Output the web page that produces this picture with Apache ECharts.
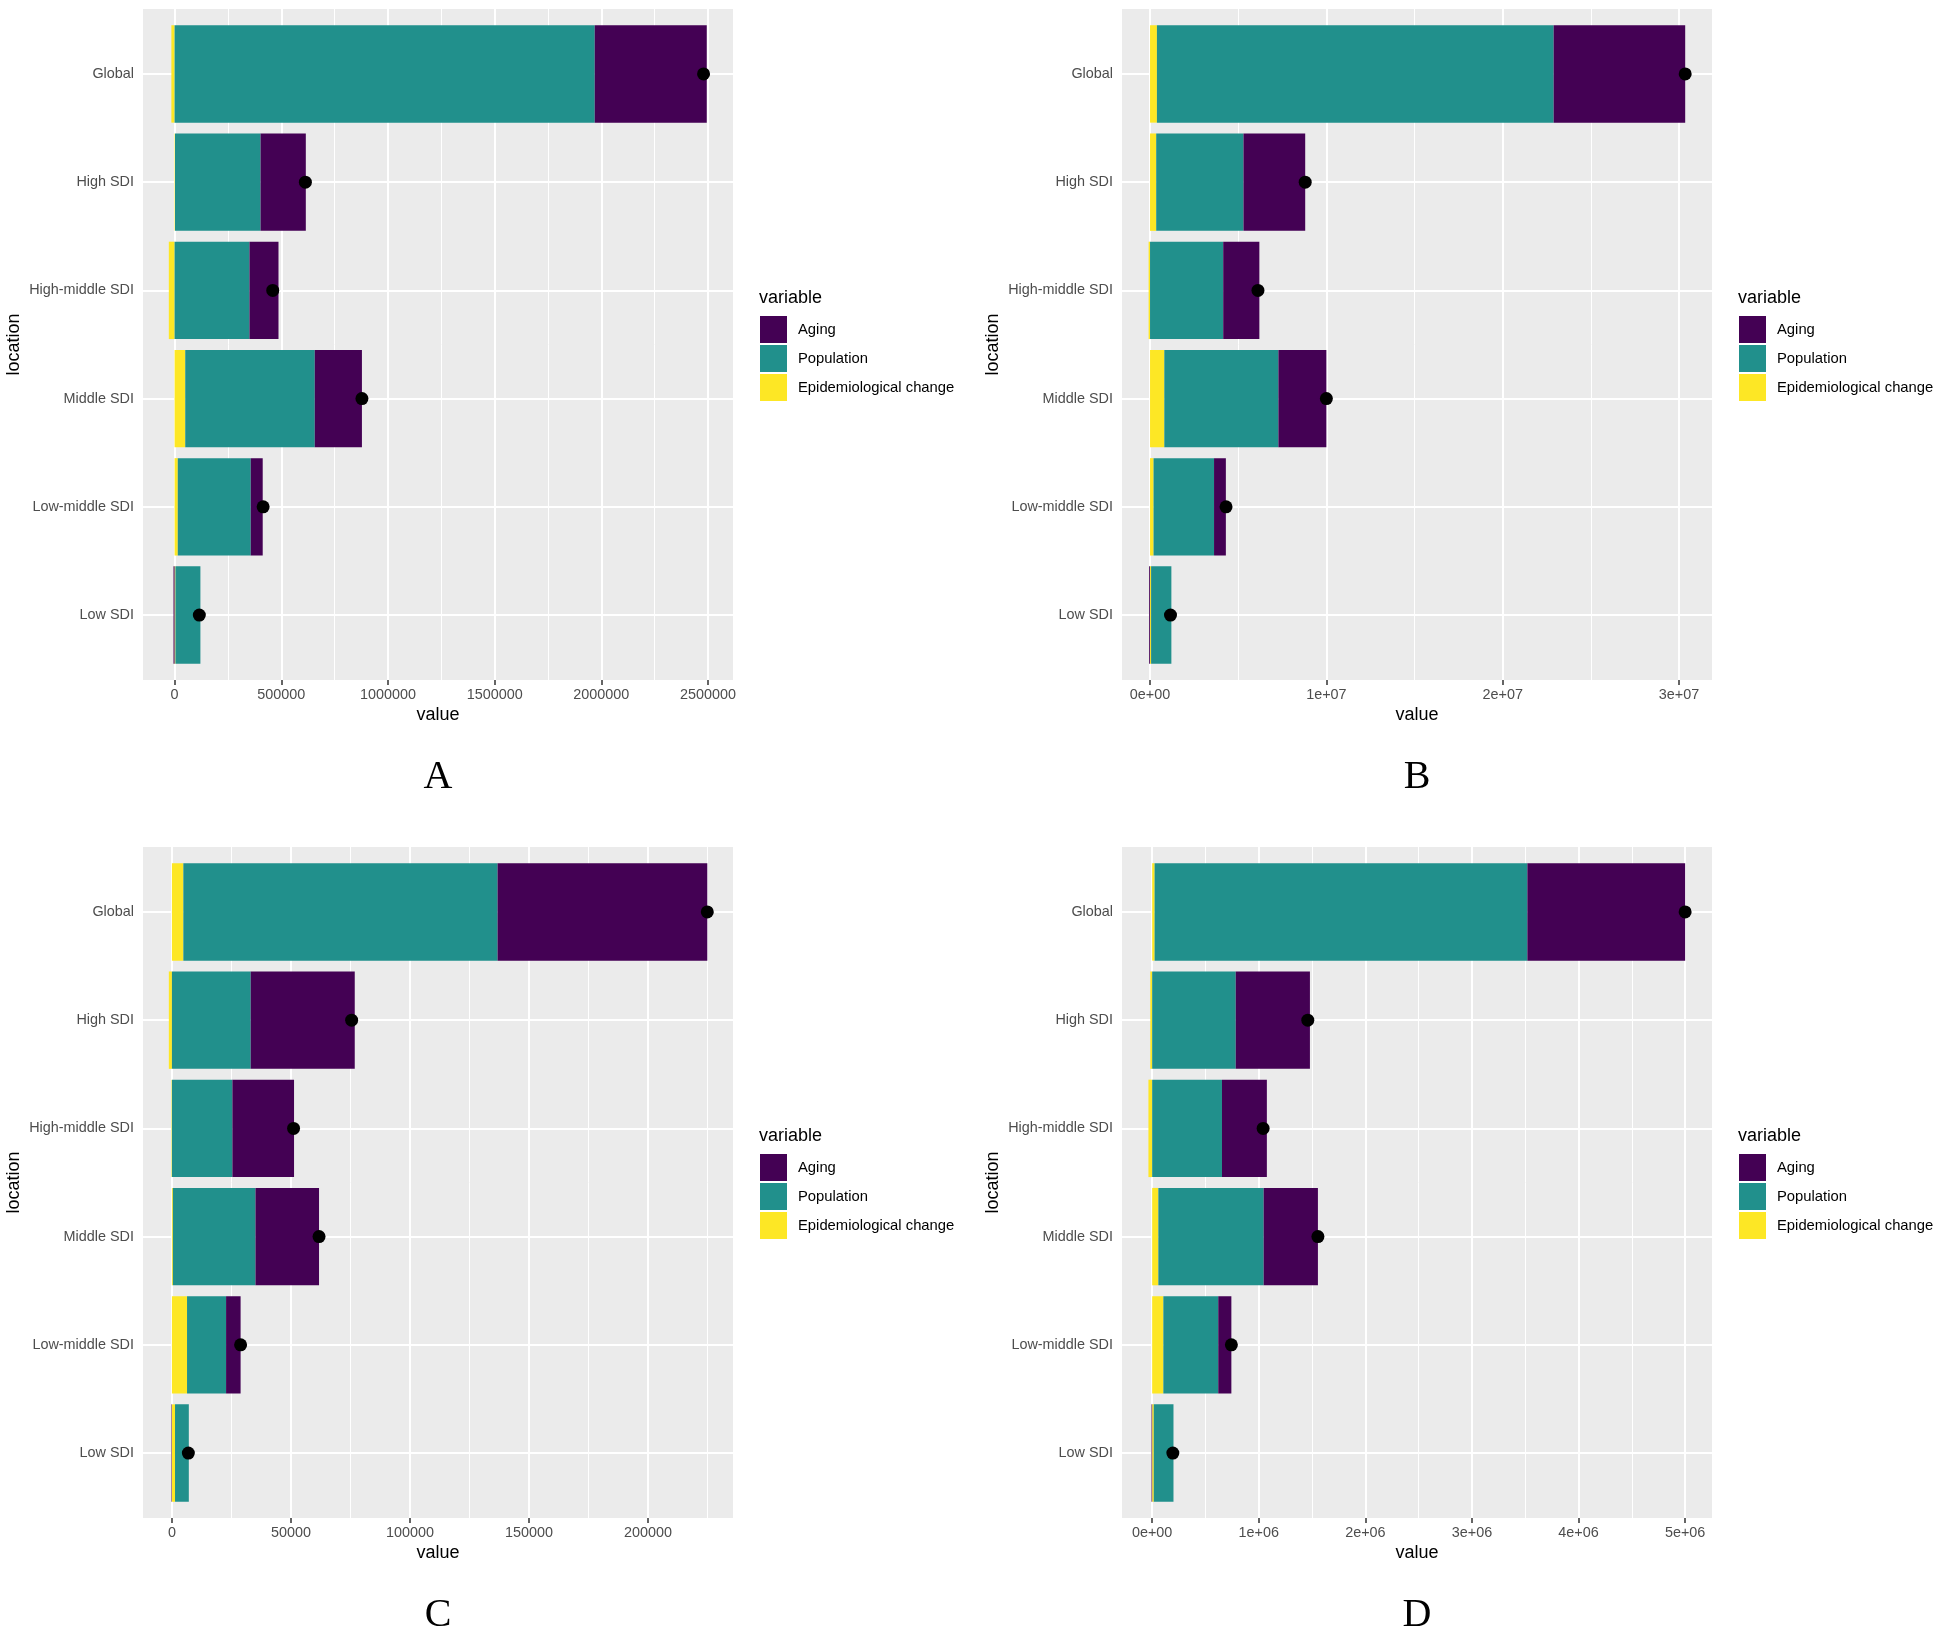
<!DOCTYPE html>
<html>
<head>
<meta charset="utf-8">
<script src="https://cdn.jsdelivr.net/npm/echarts@6/dist/echarts.min.js"></script>
<style>
  html, body { margin: 0; padding: 0; background: #ffffff; }
  #chart { width: 1943px; height: 1640px; }
</style>
</head>
<body>
<div id="chart"></div>
<script>
// ---------------- data ----------------
const categories = ['Global', 'High SDI', 'High-middle SDI', 'Middle SDI', 'Low-middle SDI', 'Low SDI'];
const seriesNames = ['Aging', 'Population', 'Epidemiological change'];

// Panel A
const epiA   = [-15000, 2000, -27000, 50000, 15000, 4000];
const popA   = [1969000, 401000, 351000, 607000, 342000, 117000];
const agingA = [525000, 212000, 136000, 221000, 56000, -5000];
const totalA = [2479000, 613000, 460000, 878000, 415000, 116000];
const ticksA = [0, 500000, 1000000, 1500000, 2000000, 2500000];
const minorA = [250000, 750000, 1250000, 1750000, 2250000];
const rangeA = [-148000, 2617000];

// Panel B
const epiB   = [390000, 350000, -80000, 810000, 200000, 60000];
const popB   = [22500000, 4950000, 4150000, 6470000, 3430000, 1150000];
const agingB = [7460000, 3500000, 2050000, 2720000, 670000, -50000];
const totalB = [30350000, 8800000, 6120000, 10000000, 4310000, 1160000];
const ticksB = [0, 10000000, 20000000, 30000000];
const minorB = [5000000, 15000000, 25000000];
const rangeB = [-1590000, 31870000];

// Panel C
const epiC   = [4800, -1300, -200, 400, 6350, 1300];
const popC   = [132000, 33100, 25400, 34700, 16400, 5800];
const agingC = [88100, 43700, 25900, 26700, 6100, -200];
const totalC = [224900, 75500, 51100, 61800, 28850, 6900];
const ticksC = [0, 50000, 100000, 150000, 200000];
const minorC = [25000, 75000, 125000, 175000, 225000];
const rangeC = [-12150, 235700];

// Panel D
const epiD   = [23000, -17500, -35000, 58000, 105000, 15000];
const popD   = [3497000, 784000, 655000, 988000, 515000, 185000];
const agingD = [1480000, 696000, 421000, 509000, 123000, -6000];
const totalD = [5000000, 1460000, 1041000, 1555000, 743000, 194000];
const ticksD = [0, 1000000, 2000000, 3000000, 4000000, 5000000];
const minorD = [500000, 1500000, 2500000, 3500000, 4500000];
const rangeD = [-283000, 5252000];

// ---------------- styles / layout ----------------
const FONT = '"Liberation Sans", Arial, Helvetica, sans-serif';
const COLORS = { 'Aging': '#440154', 'Population': '#21908C', 'Epidemiological change': '#FDE725' };
const PW = 590, PH = 671;          // panel size
const BAND = PH / 6.2;             // ggplot discrete expansion of 0.6 on each side
const plainFmt = v => String(v);
const sciFmt = v => {
  if (v === 0) return '0e+00';
  const e = Math.floor(Math.log10(Math.abs(v)));
  const m = Math.round(v / Math.pow(10, e) * 100) / 100;
  return m + 'e+' + String(e).padStart(2, '0');
};

const panels = [
  { letter: 'A', L: 143,  T: 9,   epi: epiA, pop: popA, aging: agingA, total: totalA, ticks: ticksA, minor: minorA, range: rangeA, fmt: plainFmt },
  { letter: 'B', L: 1122, T: 9,   epi: epiB, pop: popB, aging: agingB, total: totalB, ticks: ticksB, minor: minorB, range: rangeB, fmt: sciFmt },
  { letter: 'C', L: 143,  T: 847, epi: epiC, pop: popC, aging: agingC, total: totalC, ticks: ticksC, minor: minorC, range: rangeC, fmt: plainFmt },
  { letter: 'D', L: 1122, T: 847, epi: epiD, pop: popD, aging: agingD, total: totalD, ticks: ticksD, minor: minorD, range: rangeD, fmt: sciFmt }
];

const grid = [], xAxis = [], yAxis = [], series = [], legend = [], graphic = [];

panels.forEach((p, k) => {
  const gBg = 2 * k, gBar = 2 * k + 1;
  grid.push({ left: p.L, top: p.T, width: PW, height: PH, show: true, backgroundColor: '#EBEBEB', borderWidth: 0, outerBoundsMode: 'none', containLabel: false });
  grid.push({ left: p.L, top: p.T + 0.1 * BAND, width: PW, height: 6 * BAND, show: false, outerBoundsMode: 'none', containLabel: false });

  // background grid axes (x labels, ticks, title)
  xAxis.push({
    type: 'value', gridIndex: gBg, min: p.range[0], max: p.range[1],
    axisLine: { show: false },
    axisTick: { show: true, length: 5, lineStyle: { color: '#333333', width: 1.5 }, customValues: p.ticks },
    axisLabel: { show: true, color: '#4D4D4D', fontSize: 14.4, fontFamily: FONT, margin: 8, customValues: p.ticks, formatter: p.fmt },
    splitLine: { show: false },
    name: 'value', nameLocation: 'middle', nameGap: 26,
    nameTextStyle: { color: '#000000', fontSize: 18, fontFamily: FONT }
  });
  yAxis.push({ type: 'value', gridIndex: gBg, min: 0, max: 1, show: false });

  // bar grid axes
  xAxis.push({ type: 'value', gridIndex: gBar, min: p.range[0], max: p.range[1], show: false });
  yAxis.push({
    type: 'category', gridIndex: gBar, data: categories, inverse: true,
    axisLine: { show: false },
    axisTick: { show: true, alignWithLabel: true, length: 5, lineStyle: { color: '#333333', width: 1.5 } },
    axisLabel: { color: '#4D4D4D', fontSize: 14.4, fontFamily: FONT, margin: 9 },
    splitLine: { show: false },
    name: 'location', nameLocation: 'middle', nameRotate: 90, nameGap: 120,
    nameTextStyle: { color: '#000000', fontSize: 18, fontFamily: FONT }
  });

  // vertical grid lines (major + minor)
  series.push({
    type: 'scatter', xAxisIndex: gBg, yAxisIndex: gBg, data: [], symbol: 'none', silent: true, z: 1,
    markLine: {
      silent: true, z: 1, symbol: ['none', 'none'], animation: false,
      label: { show: false },
      lineStyle: { color: '#FFFFFF', type: 'solid', width: 2 },
      data: p.ticks.map(v => ({ xAxis: v, lineStyle: { width: 2, color: '#FFFFFF', type: 'solid' } }))
        .concat(p.minor.map(v => ({ xAxis: v, lineStyle: { width: 1, color: '#FFFFFF', type: 'solid' } })))
    }
  });
  // horizontal grid lines at category centres
  series.push({
    type: 'scatter', xAxisIndex: gBar, yAxisIndex: gBar, data: [], symbol: 'none', silent: true, z: 1,
    markLine: {
      silent: true, z: 1, symbol: ['none', 'none'], animation: false,
      label: { show: false },
      lineStyle: { color: '#FFFFFF', type: 'solid', width: 2 },
      data: categories.map(c => ({ yAxis: c }))
    }
  });

  const barCommon = { type: 'bar', xAxisIndex: gBar, yAxisIndex: gBar, stack: 'stack' + k, barWidth: '90%', z: 2, silent: true };
  series.push(Object.assign({}, barCommon, { name: 'Epidemiological change', data: p.epi, itemStyle: { color: COLORS['Epidemiological change'] } }));
  series.push(Object.assign({}, barCommon, { name: 'Population', data: p.pop, itemStyle: { color: COLORS['Population'] } }));
  series.push(Object.assign({}, barCommon, { name: 'Aging', data: p.aging, itemStyle: { color: COLORS['Aging'] } }));

  series.push({
    type: 'scatter', xAxisIndex: gBar, yAxisIndex: gBar, z: 4, silent: true,
    symbol: 'circle', symbolSize: 13, itemStyle: { color: '#000000', opacity: 1 },
    data: p.total.map((v, i) => [v, categories[i]])
  });

  // legend
  const legX = p.L + 617, legY = p.T + 307;
  legend.push({
    orient: 'vertical', left: legX, top: legY, padding: 0,
    itemWidth: 27, itemHeight: 27, itemGap: 2, icon: 'rect', selectedMode: false,
    data: seriesNames,
    textStyle: { color: '#000000', fontSize: 14.8, fontFamily: FONT, padding: [0, 0, 0, 6] }
  });
  graphic.push({
    type: 'text', x: legX - 1, y: p.T + 289, silent: true,
    style: { text: 'variable', fill: '#000000', font: '18px ' + FONT, align: 'left', verticalAlign: 'middle' }
  });
  // panel letter
  graphic.push({
    type: 'text', x: p.L + PW / 2, y: p.T + 788, silent: true,
    style: { text: p.letter, fill: '#000000', font: '40px "Liberation Serif", "Times New Roman", serif', align: 'center', verticalAlign: 'bottom' }
  });
});

const chart = echarts.init(document.getElementById('chart'), null, { renderer: 'canvas' });
chart.setOption({
  animation: false,
  backgroundColor: '#FFFFFF',
  textStyle: { fontFamily: FONT },
  grid, xAxis, yAxis, series, legend, graphic
});
</script>
</body>
</html>
